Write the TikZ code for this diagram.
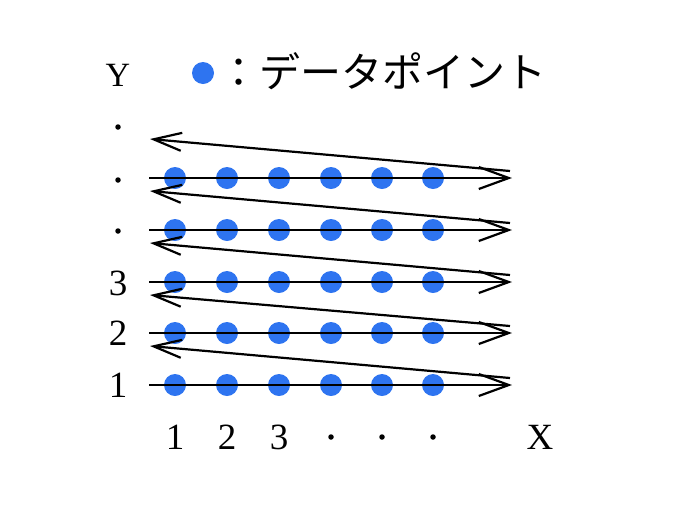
\documentclass[tikz,border=0pt]{standalone}
\usepackage{fontspec}
\setmainfont{Liberation Serif}
\newfontfamily\jpfont{Noto Sans CJK JP}
\usetikzlibrary{arrows.meta}
\definecolor{dotblue}{RGB}{46,116,240}
\tikzset{
  datadot/.style={circle,fill=dotblue,draw=none,minimum size=22pt,inner sep=0pt},
  ticklbl/.style={font=\fontsize{37}{37}\selectfont,inner sep=0pt},
  dotlbl/.style={circle,fill=black,minimum size=5.5pt,inner sep=0pt},
  rowline/.style={line width=2.2pt,-{Straight Barb[length=30pt,width=22pt,line width=2.2pt]}},
  backline/.style={line width=2.2pt,-{Straight Barb[length=28pt,width=18pt,line width=2.2pt]}}
}
\begin{document}
\begin{tikzpicture}[x=1pt,y=-1pt]
\useasboundingbox (0,0) rectangle (682,520);
% legend
\node[ticklbl,font=\fontsize{34}{34}\selectfont] (ylbl) at (118,75) {Y};
\node[datadot] (legdot) at (203,73) {};
\node[anchor=west,inner sep=0pt,font=\jpfont\fontsize{41}{41}\selectfont] (legtxt) at (218,71) {：データポイント};
% y labels
\node[dotlbl] (yd3) at (118,127) {};
\node[dotlbl] (yd2) at (118,180) {};
\node[dotlbl] (yd1) at (118,231) {};
\node[ticklbl] (y3) at (118,283) {3};
\node[ticklbl] (y2) at (118,333) {2};
\node[ticklbl] (y1) at (118,385) {1};
% x labels
\node[ticklbl] (x1) at (175,437) {1};
\node[ticklbl] (x2) at (227,437) {2};
\node[ticklbl] (x3) at (279,437) {3};
\node[dotlbl] (xd1) at (331,437) {};
\node[dotlbl] (xd2) at (382,437) {};
\node[dotlbl] (xd3) at (433,437) {};
\node[ticklbl] (xlbl) at (540,437) {X};
% rows
\foreach \r/\y in {1/385,2/333,3/282,4/230,5/178}{
  \foreach \c/\x in {1/175,2/227,3/279,4/331,5/382,6/433}{
    \node[datadot] (d\r\c) at (\x,\y) {};
  }
  \coordinate (L\r) at (149,\y);
  \coordinate (R\r) at (512,\y);
  \coordinate (BR\r) at (510,\y-7);
  \coordinate (BL\r) at (150,\y+13);
}
\coordinate (BL6) at (150,139);
\foreach \r in {1,...,5}{
  \draw[rowline] (L\r) -- (R\r);
}
\foreach \r/\n in {1/2,2/3,3/4,4/5,5/6}{
  \draw[backline] (BR\r) -- (BL\n);
}
\end{tikzpicture}
\end{document}
